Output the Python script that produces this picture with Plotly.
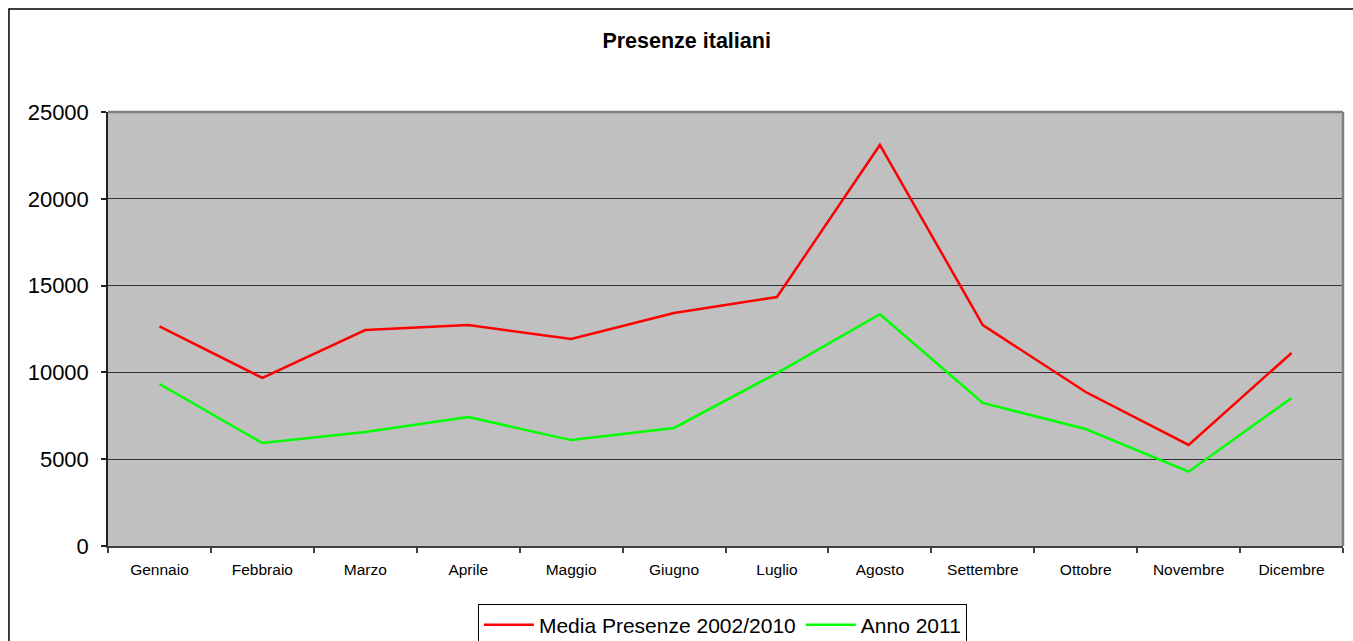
import plotly.graph_objects as go

months = ["Gennaio", "Febbraio", "Marzo", "Aprile", "Maggio", "Giugno",
          "Luglio", "Agosto", "Settembre", "Ottobre", "Novembre", "Dicembre"]
media_2002_2010 = [12650, 9680, 12440, 12730, 11920, 13420,
                   14340, 23100, 12730, 8870, 5820, 11120]
anno_2011 = [9330, 5930, 6570, 7430, 6100, 6800,
             9960, 13350, 8240, 6740, 4280, 8520]
y_ticks = [0, 5000, 10000, 15000, 20000, 25000]

FONT = "Arial, 'Liberation Sans', sans-serif"

fig = go.Figure()
fig.add_trace(go.Scatter(x=months, y=media_2002_2010, mode="lines",
                         name="Media Presenze 2002/2010",
                         line=dict(color="#FF0000", width=2.5)))
fig.add_trace(go.Scatter(x=months, y=anno_2011, mode="lines",
                         name="Anno 2011",
                         line=dict(color="#00FF00", width=2.5)))

fig.update_layout(
    width=1353, height=641,
    margin=dict(l=108, r=10, t=112, b=95, autoexpand=False),
    paper_bgcolor="white",
    plot_bgcolor="#C0C0C0",
    font=dict(family=FONT, color="black"),
    title=dict(text="<b>Presenze italiani</b>", font=dict(size=21.5, family=FONT),
               x=0.5075, xref="container", xanchor="center",
               y=0.9376, yref="container", yanchor="middle"),
    showlegend=True,
    legend=dict(orientation="h", x=0.4975, xanchor="center", y=-0.133, yanchor="top",
                bordercolor="black", borderwidth=1, bgcolor="white",
                font=dict(size=21, family=FONT), itemwidth=50,
                tracegroupgap=0),
    xaxis=dict(type="category", range=[-0.5, 11.5], showgrid=False, showline=True,
               linecolor="#404040", linewidth=1.5,
               ticks="outside", tickson="boundaries", ticklen=5,
               tickcolor="#404040", tickwidth=1.5,
               tickfont=dict(size=15.5, family=FONT), zeroline=False,
               ticklabelstandoff=9),
    yaxis=dict(range=[0, 25000], tickvals=y_ticks, tickformat="d", showgrid=True,
               gridcolor="#333333", gridwidth=1,
               showline=True, linecolor="#202020", linewidth=1.5,
               ticks="outside", ticklen=5, tickcolor="#202020", tickwidth=1.5,
               tickfont=dict(size=22, family=FONT), zeroline=False,
               ticklabelstandoff=8),
    shapes=[
        dict(type="line", xref="paper", yref="paper", x0=0, x1=1, y0=1, y1=1,
             line=dict(color="#808080", width=2.5), layer="above"),
        dict(type="line", xref="paper", yref="paper", x0=1, x1=1, y0=0, y1=1,
             line=dict(color="#808080", width=2.5), layer="above"),
        dict(type="rect", xref="paper", yref="paper",
             x0=-0.0802, x1=1.03, y0=-0.26, y1=1.2373,
             line=dict(color="black", width=1.5), layer="above"),
    ],
)

fig.write_html("out.html",
               config={"displayModeBar": False},
               post_script="document.body.style.margin='0';"
                           "document.body.style.overflow='hidden';")
